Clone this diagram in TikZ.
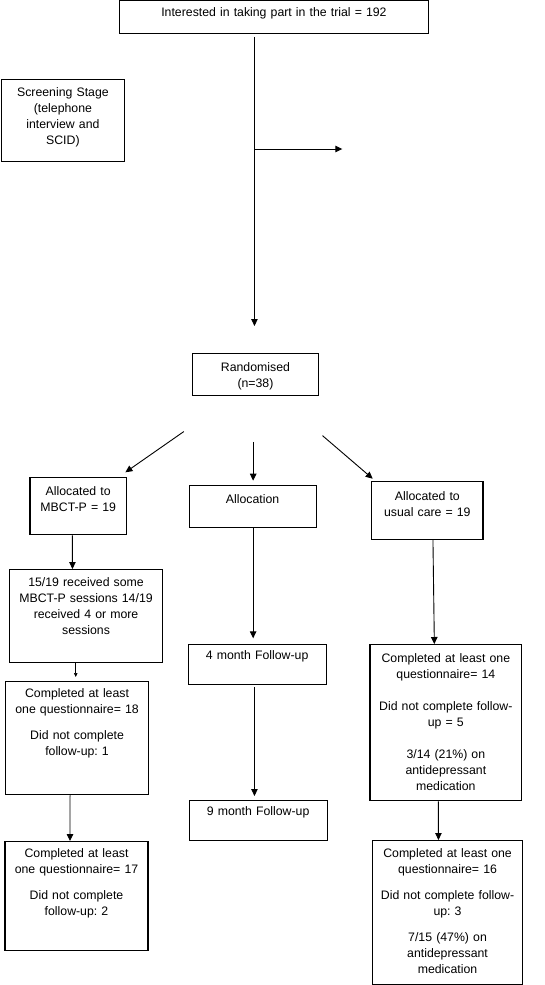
\documentclass[tikz,border=0pt]{standalone}
\usepackage{fontspec}
\setmainfont{Liberation Sans}
\usetikzlibrary{arrows.meta}
\frenchspacing

\begin{document}
\begin{tikzpicture}[
  x=1pt, y=1pt,
  font=\fontsize{12.3}{16}\selectfont,
  >={Triangle[length=7pt,width=6.5pt]},
  box/.style={draw=black, line width=0.9pt, anchor=north west, align=center, inner sep=0pt},
  heavy/.style={box, line width=1.4pt},
  flow/.style={->, line width=0.9pt, draw=black},
  stub/.style={-{Triangle[length=4pt,width=3.5pt]}, line width=0.6pt, draw=black}
]
\useasboundingbox (0,0) rectangle (544,-985);

% Recruitment
\node[box, text width=309pt, text height=16pt, text depth=16.5pt] (interest) at (119,-0.5)
{Interested in taking part in the trial = 192};
\node[box, text width=123.5pt, text height=16.5pt, text depth=65.5pt] (screen) at (0.7,-79.3)
{Screening Stage\\(telephone\\interview and\\SCID)};
\node[box, text width=126.6pt, text height=17.3pt, text depth=24.7pt] (rand) at (191.7,-353.3)
{Randomised\\(n=38)};

% Allocation row
\node[heavy, text width=96.4pt, text height=18.3pt, text depth=39pt] (mbct) at (29.3,-476.7)
{Allocated to\\MBCT-P = 19};
\node[box, text width=127pt, text height=17.7pt, text depth=24.3pt] (alloc) at (188.7,-485.3)
{Allocation};
\node[heavy, text width=111.3pt, text height=18.6pt, text depth=39.4pt] (usual) at (371,-480.7)
{Allocated to\\usual care = 19};

% MBCT-P arm
\node[heavy, text width=152.7pt, text height=17pt, text depth=75.7pt] (sess) at (9,-569)
{15/19 received some\\MBCT-P sessions 14/19\\received 4 or more\\sessions};
\node[heavy, text width=142.7pt, text height=15.5pt, text depth=97.5pt] (done18) at (5,-681)
{Completed at least\\one questionnaire= 18\\[10.5pt]Did not complete\\follow-up: 1};
\node[heavy, text width=143pt, text height=16pt, text depth=93pt] (done17) at (4.3,-841)
{Completed at least\\one questionnaire= 17\\[10pt]Did not complete\\follow-up: 2};

% Follow-up points
\node[box, text width=138pt, text height=15.5pt, text depth=24.5pt] (fu4) at (187.7,-644)
{4 month Follow-up};
\node[box, text width=138pt, text height=15.2pt, text depth=24.8pt] (fu9) at (188.7,-800.3)
{9 month Follow-up};

% Usual care arm
\node[heavy, text width=151.7pt, text height=18pt, text depth=138pt] (done14) at (369.3,-644)
{Completed at least one\\questionnaire= 14\\[16pt]Did not complete follow-\\up = 5\\[16pt]3/14 (21\%) on\\antidepressant\\medication};
\node[heavy, text width=150.3pt, text height=16.5pt, text depth=127.5pt] (done16) at (371.7,-840)
{Completed at least one\\questionnaire= 16\\[10pt]Did not complete follow-\\up: 3\\[10pt]7/15 (47\%) on\\antidepressant\\medication};

% Arrows
\coordinate (split) at (255,-149);
\coordinate (excluded) at (342.3,-149);
\draw[flow] ([xshift=-19.5pt,yshift=-3pt]interest.south) -- ([xshift=-1pt,yshift=27.3pt]rand.north);
\draw[flow] (split) -- (excluded);
\draw[flow] ([xshift=-71.7pt,yshift=-35.4pt]rand.south) -- ([xshift=-1.7pt,yshift=4.4pt]mbct.north east);
\draw[flow] ([xshift=-2.3pt,yshift=-45.7pt]rand.south) -- ([xshift=0.5pt,yshift=4.6pt]alloc.north);
\draw[flow] ([xshift=67pt,yshift=-39.4pt]rand.south) -- ([xshift=1.7pt,yshift=2pt]usual.north west);
\draw[flow] ([xshift=-5.8pt]mbct.south) -- ([xshift=-13.6pt]sess.north);
\draw[stub] ([xshift=-10.3pt]sess.south) -- ([xshift=-1.3pt,yshift=4pt]done18.north);
\draw[flow] ([xshift=-7pt]done18.south) -- ([xshift=-6.5pt]done17.north);
\draw[flow] ([xshift=0.5pt]alloc.south) -- ([xshift=-4pt,yshift=5.7pt]fu4.north);
\draw[flow] ([xshift=-2.7pt,yshift=-2pt]fu4.south) -- ([xshift=-3.7pt,yshift=4.3pt]fu9.north);
\draw[flow] ([xshift=5.6pt]usual.south) -- ([xshift=-11.5pt]done14.north);
\draw[flow] ([xshift=-7.5pt]done14.south) -- ([xshift=-9.1pt]done16.north);

\end{tikzpicture}
\end{document}
